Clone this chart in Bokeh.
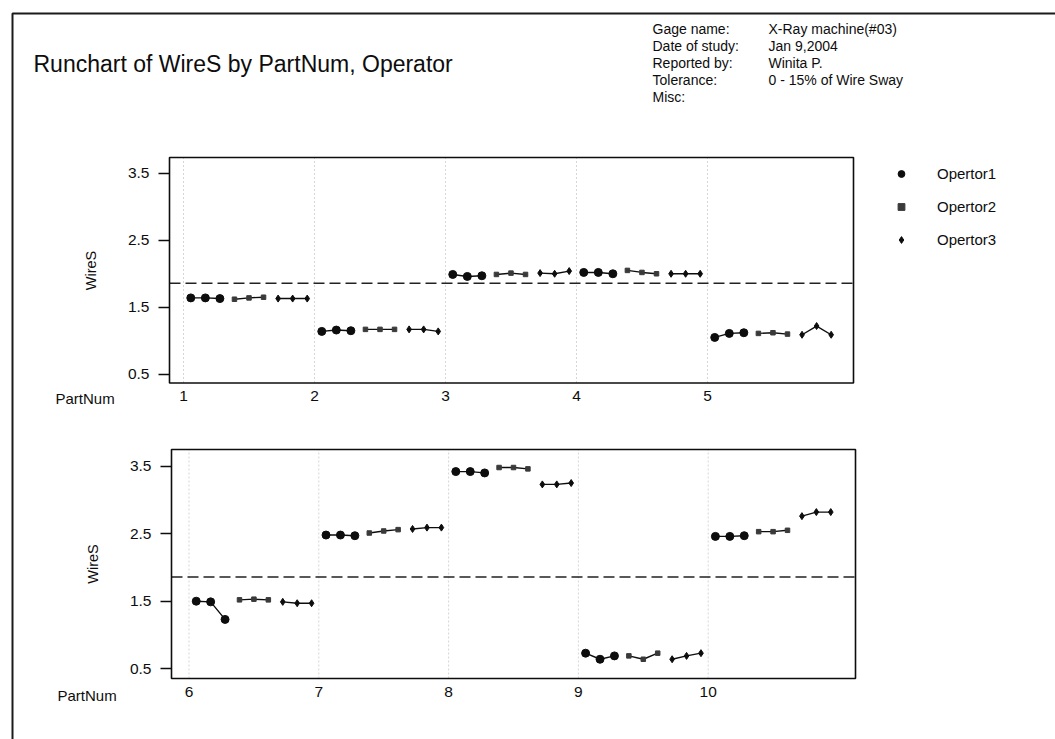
import numpy as np
from bokeh.plotting import figure
from bokeh.models import (Range1d, FixedTicker, Label, Legend, LegendItem,
                          ColumnDataSource, LinearAxis, Grid)
from bokeh.embed import file_html
from bokeh.resources import INLINE
from bokeh.core.properties import value

# ---- data ----------------------------------------------------------------
parts_top = [1, 2, 3, 4, 5]
parts_bottom = [6, 7, 8, 9, 10]
operators = ["Opertor1", "Opertor2", "Opertor3"]

# three trials per part, parts 1..10 in order
wires_op1 = [1.64, 1.64, 1.63, 1.14, 1.16, 1.15, 1.99, 1.96, 1.97, 2.02, 2.02, 2.00,
             1.05, 1.11, 1.12, 1.50, 1.49, 1.23, 2.48, 2.48, 2.47, 3.42, 3.42, 3.40,
             0.73, 0.64, 0.69, 2.46, 2.46, 2.47]
wires_op2 = [1.62, 1.64, 1.65, 1.17, 1.17, 1.17, 1.99, 2.01, 1.99, 2.05, 2.02, 2.00,
             1.11, 1.12, 1.10, 1.52, 1.53, 1.52, 2.51, 2.54, 2.56, 3.48, 3.48, 3.46,
             0.69, 0.64, 0.73, 2.53, 2.53, 2.55]
wires_op3 = [1.63, 1.63, 1.63, 1.17, 1.17, 1.14, 2.01, 2.00, 2.04, 2.00, 2.00, 2.00,
             1.09, 1.22, 1.09, 1.49, 1.47, 1.47, 2.57, 2.59, 2.59, 3.23, 3.23, 3.25,
             0.64, 0.69, 0.73, 2.76, 2.82, 2.82]

y_ticks = [0.5, 1.5, 2.5, 3.5]

info_labels = ["Gage name:", "Date of study:", "Reported by:", "Tolerance:", "Misc:"]
info_values = ["X-Ray machine(#03)", "Jan 9,2004", "Winita P.", "0 - 15% of Wire Sway", ""]
title_text = "Runchart of WireS by PartNum, Operator"

# ---- styling / layout ----------------------------------------------------
FONT = "Liberation Sans"
INK = "#0d0d0d"
N_TRIALS = 3
W, H = 1055, 739

all_series = [wires_op1, wires_op2, wires_op3]
grand_mean = float(np.mean(np.concatenate([np.asarray(s) for s in all_series])))

marker_styles = [
    dict(marker="circle", size=8, color=INK),
    dict(marker="square", size=4.5, color="#3a3a3a"),
    dict(marker="diamond", size=7, color=INK),
]

# panel boxes in page pixels (left, right, top, bottom) and the data window shown in each
panels = [
    dict(key="top", parts=parts_top, box=(169, 853, 157, 382.5),
         xr=(0.893, 6.115), yr=(0.37, 3.735), partnum=(55, 398), legend=True),
    dict(key="bottom", parts=parts_bottom, box=(171, 855, 449, 678),
         xr=(5.865, 11.135), yr=(0.355, 3.747), partnum=(57, 695), legend=False),
]

# the whole page is one plot frame, addressed in pixels; each panel gets its own scales
p = figure(width=W, height=H, x_range=Range1d(0, W), y_range=Range1d(H, 0),
           x_axis_location=None, y_axis_location=None,
           output_backend="svg", toolbar_location=None,
           min_border=0, min_border_left=0, min_border_right=0,
           min_border_top=0, min_border_bottom=0,
           background_fill_color="white", border_fill_color="white")
p.outline_line_color = None
for g in p.select(type=Grid):
    g.visible = False


def stretch(px_a, px_b, v_a, v_b, px_lo, px_hi):
    """Linear pixel->value map through (px_a, v_a), (px_b, v_b); values at px_lo, px_hi."""
    k = (v_b - v_a) / (px_b - px_a)
    return v_a + (px_lo - px_a) * k, v_a + (px_hi - px_a) * k


# page border
p.line([12, 12, W], [H, 13, 13], line_color="#1a1a1a", line_width=2)

legend_renderers = []
for pan in panels:
    left, right, top, bottom = pan["box"]
    x0, x1 = pan["xr"]
    y0, y1 = pan["yr"]
    xn, yn = pan["key"] + "_x", pan["key"] + "_y"
    xs, xe = stretch(left, right, x0, x1, 0, W)
    ys, ye = stretch(bottom, top, y0, y1, H, 0)
    p.extra_x_ranges[xn] = Range1d(xs, xe)
    p.extra_y_ranges[yn] = Range1d(ys, ye)
    kw = dict(x_range_name=xn, y_range_name=yn)
    parts = pan["parts"]

    # faint vertical guides at each part
    p.segment(x0=parts, y0=[y0] * len(parts), x1=parts, y1=[y1] * len(parts),
              line_color="#d6d6d6", line_width=1, line_dash="2 2", **kw)

    # grand mean reference
    p.segment(x0=[x0], y0=[grand_mean], x1=[x1], y1=[grand_mean],
              line_color="#222222", line_width=1.5, line_dash="11 5", **kw)

    renderers = []
    for o, series in enumerate(all_series):
        xs_groups, ys_groups, xs_all, ys_all = [], [], [], []
        for part in parts:
            i0 = (part - 1) * N_TRIALS
            gx = [part + (N_TRIALS * o + t + 0.5) / (N_TRIALS * len(operators))
                  for t in range(N_TRIALS)]
            gy = series[i0:i0 + N_TRIALS]
            xs_groups.append(gx)
            ys_groups.append(gy)
            xs_all += gx
            ys_all += gy
        p.multi_line(xs_groups, ys_groups, line_color=INK, line_width=1.4, **kw)
        st = marker_styles[o]
        r = p.scatter(xs_all, ys_all, marker=st["marker"], size=st["size"],
                      fill_color=st["color"], line_color=st["color"], **kw)
        renderers.append(r)
    if pan["legend"]:
        legend_renderers = renderers

    # panel frame
    p.quad(left=[x0], right=[x1], bottom=[y0], top=[y1], fill_color=None,
           line_color=INK, line_width=1.6, **kw)

    yax = LinearAxis(fixed_location=x0, bounds=(y0, y1),
                     ticker=FixedTicker(ticks=y_ticks), axis_label="WireS", **kw)
    yax.axis_label_text_font = FONT
    yax.axis_label_text_font_style = "normal"
    yax.axis_label_text_font_size = "14.5px"
    yax.axis_label_text_color = INK
    yax.axis_label_standoff = 26
    yax.axis_line_color = None
    yax.major_tick_out = 11
    yax.major_tick_in = 0
    yax.major_tick_line_width = 1.5
    yax.major_tick_line_color = INK
    yax.minor_tick_line_color = None
    yax.major_label_standoff = 9
    yax.major_label_text_font = FONT
    yax.major_label_text_font_size = "15.5px"
    yax.major_label_text_color = INK
    p.add_layout(yax, "left")

    xax = LinearAxis(fixed_location=y0, bounds=(x0, x1),
                     ticker=FixedTicker(ticks=parts), **kw)
    xax.axis_line_color = None
    xax.major_tick_line_color = None
    xax.minor_tick_line_color = None
    xax.major_tick_out = 0
    xax.major_tick_in = 0
    xax.major_label_standoff = 8
    xax.major_label_text_font = FONT
    xax.major_label_text_font_size = "15.5px"
    xax.major_label_text_color = INK
    p.add_layout(xax, "below")

    px, py = pan["partnum"]
    p.add_layout(Label(x=px, y=py, text="PartNum", text_baseline="middle",
                       text_align="left", text_font=FONT, text_font_size="15px",
                       text_color=INK))

# legend to the right of the upper panel
legend = Legend(items=[LegendItem(label=name, renderers=[r])
                       for name, r in zip(operators, legend_renderers)],
                location=(892, H - 249), orientation="vertical",
                border_line_color=None, background_fill_alpha=0,
                padding=0, margin=0, spacing=13,
                glyph_width=18, glyph_height=17, label_height=20, label_standoff=27,
                label_text_font=FONT, label_text_font_size="15px",
                label_text_color=INK)
p.add_layout(legend)

# title and study details
p.text(x=[33], y=[63], text=[title_text], text_font=value(FONT), text_font_size="23px",
       text_baseline="middle", text_color=INK)
rows_y = [28 + 17 * i for i in range(len(info_labels))]
info_src = ColumnDataSource(dict(xl=[652] * len(info_labels), xv=[768] * len(info_labels),
                                 y=rows_y, lab=info_labels, val=info_values))
p.text(x="xl", y="y", text="lab", source=info_src, text_font=value(FONT),
       text_font_size="14px", text_baseline="middle", text_color=INK)
p.text(x="xv", y="y", text="val", source=info_src, text_font=value(FONT),
       text_font_size="14px", text_baseline="middle", text_color=INK)

open("out.html", "w").write(file_html(p, INLINE))
